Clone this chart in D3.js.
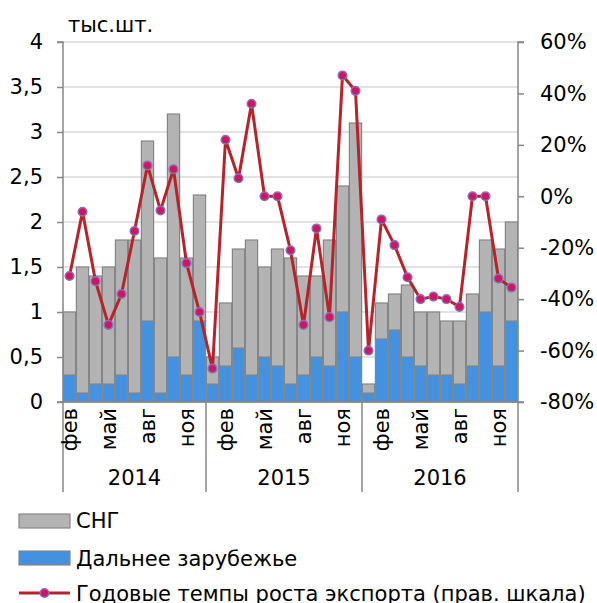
<!DOCTYPE html>
<html>
<head>
<meta charset="utf-8">
<script src="https://cdn.jsdelivr.net/npm/d3@7"></script>
<style>
  body { margin: 0; background: #fff; }
  svg { font-family: "DejaVu Sans", sans-serif; }
</style>
</head>
<body>
<svg id="chart" width="597" height="603"></svg>
<script>
// data
const years = ["2014", "2015", "2016"];
const monthNames = ["янв", "фев", "мар", "апр", "май", "июн", "июл", "авг", "сен", "окт", "ноя", "дек"];
const yearMonths = [
  monthNames.slice(1),   // 2014 starts in feb
  monthNames,
  monthNames
];
const labelMonths = ["фев", "май", "авг", "ноя"];

const farAbroad = [
  0.3, 0.1, 0.2, 0.2, 0.3, 0.1, 0.9, 0.1, 0.5, 0.3, 0.9,
  0.2, 0.4, 0.6, 0.3, 0.5, 0.4, 0.2, 0.3, 0.5, 0.4, 1.0, 0.5,
  0.1, 0.7, 0.8, 0.5, 0.4, 0.3, 0.3, 0.2, 0.4, 1.0, 0.4, 0.9
];
const totals = [
  1.0, 1.5, 1.4, 1.5, 1.8, 1.8, 2.9, 1.6, 3.2, 1.6, 2.3,
  0.5, 1.1, 1.7, 1.8, 1.5, 1.7, 1.6, 1.4, 1.4, 1.8, 2.4, 3.1,
  0.2, 1.1, 1.2, 1.3, 1.0, 1.0, 0.9, 0.9, 1.2, 1.8, 1.7, 2.0
];
const growth = [
  -31, -6, -33, -50, -38, -13.5, 12, -5.5, 10.5, -26, -45,
  -67, 22, 7, 36, 0, 0, -21, -50, -12.5, -47, 47, 41,
  -60, -9, -19, -31.5, -40, -39, -40, -43, 0, 0, -32, -35.5
];

const leftTicks = [0, 0.5, 1, 1.5, 2, 2.5, 3, 3.5, 4];
const rightTicks = [-80, -60, -40, -20, 0, 20, 40, 60];

// categories
const cats = [];
yearMonths.forEach((ms, yi) => ms.forEach(m => cats.push({ year: years[yi], month: m })));

const svg = d3.select("#chart");
const plotLeft = 63, plotRight = 518, plotTop = 42, plotBottom = 402;

const x = d3.scaleBand().domain(d3.range(cats.length)).range([plotLeft, plotRight]).paddingInner(0.06).paddingOuter(0.03);
const y = d3.scaleLinear().domain([0, 4]).range([plotBottom, plotTop]);
const y2 = d3.scaleLinear().domain([-80, 60]).range([plotBottom, plotTop]);

const axisColor = "#878787";
const fs = 21;

// gridlines
svg.append("g").selectAll("line").data(leftTicks.slice(1)).join("line")
  .attr("x1", plotLeft).attr("x2", plotRight)
  .attr("y1", d => y(d)).attr("y2", d => y(d))
  .attr("stroke", "#d9d9d9").attr("stroke-width", 1.3);

// stacked bars
const bars = svg.append("g");
cats.forEach((c, i) => {
  bars.append("rect")
    .attr("x", x(i)).attr("width", x.bandwidth())
    .attr("y", y(farAbroad[i])).attr("height", y(0) - y(farAbroad[i]))
    .attr("fill", "#4391df").attr("stroke", "#868686").attr("stroke-width", 1.2);
  bars.append("rect")
    .attr("x", x(i)).attr("width", x.bandwidth())
    .attr("y", y(totals[i])).attr("height", y(farAbroad[i]) - y(totals[i]))
    .attr("fill", "#b3b3b3").attr("stroke", "#868686").attr("stroke-width", 1.2);
});

// left axis
const yAxis = svg.append("g").attr("transform", `translate(${plotLeft},0)`)
  .call(d3.axisLeft(y).tickValues(leftTicks).tickSize(6).tickPadding(14)
    .tickFormat(d => String(d).replace(".", ",")));
yAxis.select(".domain").attr("stroke", axisColor).attr("stroke-width", 1.5).attr("d", `M-6,${plotTop}H0V${plotBottom}H-6`);
yAxis.selectAll(".tick line").attr("stroke", axisColor).attr("stroke-width", 1.5);
yAxis.selectAll("text").attr("font-size", fs).attr("fill", "#000").attr("font-family", "DejaVu Sans");

// right axis
const y2Axis = svg.append("g").attr("transform", `translate(${plotRight},0)`)
  .call(d3.axisRight(y2).tickValues(rightTicks).tickSize(6).tickPadding(16)
    .tickFormat(d => d + "%"));
y2Axis.select(".domain").attr("stroke", axisColor).attr("stroke-width", 1.5).attr("d", `M6,${plotTop}H0V${plotBottom}H6`);
y2Axis.selectAll(".tick line").attr("stroke", axisColor).attr("stroke-width", 1.5);
y2Axis.selectAll("text").attr("font-size", fs).attr("fill", "#000").attr("font-family", "DejaVu Sans");

// bottom axis line
svg.append("line").attr("x1", plotLeft).attr("x2", plotRight).attr("y1", plotBottom).attr("y2", plotBottom)
  .attr("stroke", axisColor).attr("stroke-width", 1.5);

// year separators
let idx = 0;
const seps = [plotLeft];
yearMonths.forEach(ms => { idx += ms.length; seps.push(idx < cats.length ? x(idx) - x.step() * x.paddingInner() / 2 : plotRight); });
svg.append("g").selectAll("line").data(seps).join("line")
  .attr("x1", d => d).attr("x2", d => d).attr("y1", plotBottom).attr("y2", 492)
  .attr("stroke", axisColor).attr("stroke-width", 1.5);

// month labels
svg.append("g").selectAll("text")
  .data(cats.map((c, i) => ({ ...c, i })).filter(c => labelMonths.includes(c.month)))
  .join("text")
  .attr("transform", d => `translate(${x(d.i) + x.bandwidth() / 2 + 7.5},408) rotate(-90)`)
  .attr("text-anchor", "end").attr("font-size", fs)
  .text(d => d.month);

// year labels
svg.append("g").selectAll("text").data(years).join("text")
  .attr("x", (d, i) => (seps[i] + seps[i + 1]) / 2).attr("y", 485)
  .attr("text-anchor", "middle").attr("font-size", fs)
  .text(d => d);

// growth line
const line = d3.line().x((d, i) => x(i) + x.bandwidth() / 2).y(d => y2(d));
svg.append("path").datum(growth).attr("d", line)
  .attr("fill", "none").attr("stroke", "#b8232a").attr("stroke-width", 3);
svg.append("g").selectAll("circle").data(growth).join("circle")
  .attr("cx", (d, i) => x(i) + x.bandwidth() / 2).attr("cy", d => y2(d)).attr("r", 4.3)
  .attr("fill", "#d1165f").attr("stroke", "#8a6cc0").attr("stroke-width", 1.5);

// unit label
svg.append("text").attr("x", 68).attr("y", 32).attr("font-size", fs).text("тыс.шт.");

// legend
const lg = svg.append("g");
lg.append("rect").attr("x", 19).attr("y", 514).attr("width", 51).attr("height", 14)
  .attr("fill", "#b3b3b3").attr("stroke", "#868686").attr("stroke-width", 1.2);
lg.append("text").attr("x", 76).attr("y", 528).attr("font-size", fs).text("СНГ");
lg.append("rect").attr("x", 19).attr("y", 551).attr("width", 51).attr("height", 14)
  .attr("fill", "#4391df").attr("stroke", "#868686").attr("stroke-width", 1.2);
lg.append("text").attr("x", 76).attr("y", 566).attr("font-size", fs).text("Дальнее зарубежье");
lg.append("line").attr("x1", 19).attr("x2", 70).attr("y1", 593).attr("y2", 593)
  .attr("stroke", "#b8232a").attr("stroke-width", 3);
lg.append("circle").attr("cx", 44.5).attr("cy", 593).attr("r", 4.3)
  .attr("fill", "#d1165f").attr("stroke", "#8a6cc0").attr("stroke-width", 1.5);
lg.append("text").attr("x", 76).attr("y", 601).attr("font-size", fs).text("Годовые темпы роста экспорта (прав. шкала)");
</script>
</body>
</html>
